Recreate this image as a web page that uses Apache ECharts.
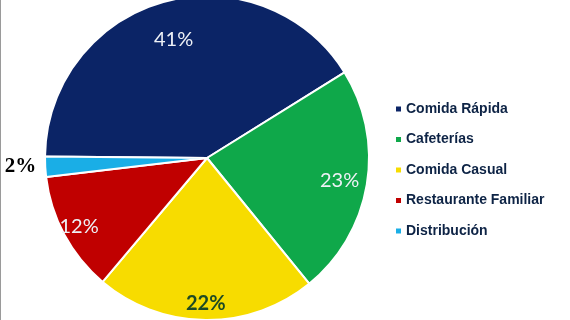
<!DOCTYPE html>
<html>
<head>
<meta charset="utf-8">
<script src="https://cdn.jsdelivr.net/npm/echarts@6/dist/echarts.min.js"></script>
<style>
  html, body { margin: 0; padding: 0; background: #fff; }
  #chart { width: 570px; height: 320px; }
</style>
</head>
<body>
<div id="chart"></div>
<script>
// datos del grafico
var categories = ['Comida Rápida', 'Cafeterías', 'Comida Casual', 'Restaurante Familiar', 'Distribución'];
var values = [41, 23, 22, 12, 2];
var colors = ['#0b2466', '#0fa84a', '#f7dc00', '#c00000', '#1aaee6'];

var cx = 207, cy = 158;
// factor para alejar las etiquetas internas del centro
var labelPush = [1.47, 1.6, 1.73, 1.73, 1];

var myChart = echarts.init(document.getElementById('chart'));
var option = {
  animation: false,
  color: colors,
  graphic: [{
    type: 'line',
    shape: { x1: 0.5, y1: 0, x2: 0.5, y2: 320 },
    style: { stroke: '#9a9a9a', lineWidth: 1 }
  }],
  legend: {
    orient: 'vertical',
    left: 389,
    top: 96,
    itemWidth: 7,
    itemHeight: 7,
    itemGap: 14.5,
    icon: 'rect',
    textStyle: {
      fontFamily: 'Liberation Sans Narrow, Liberation Sans, sans-serif',
      fontWeight: 'bold',
      fontSize: 14,
      lineHeight: 16,
      color: '#0d2345',
      padding: [0, 0, 0, -1]
    },
    data: categories
  },
  series: [{
    type: 'pie',
    center: [cx, cy],
    radius: 162,
    startAngle: 179.5,
    clockwise: true,
    itemStyle: { borderColor: '#fff', borderWidth: 2 },
    label: {
      position: 'inside',
      formatter: '{c}%',
      fontFamily: 'Lato, sans-serif',
      fontSize: 20,
      color: '#eef1f6'
    },
    labelLine: { show: false },
    labelLayout: function (p) {
      if (p.dataIndex === 4) return {};
      var k = labelPush[p.dataIndex];
      var lx = p.labelRect.x + p.labelRect.width / 2;
      var ly = p.labelRect.y + p.labelRect.height / 2;
      return { x: cx + (lx - cx) * k, y: cy + (ly - cy) * k };
    },
    data: values.map(function (v, i) {
      var d = { name: categories[i], value: v };
      if (i === 2) {
        d.label = { color: '#1d4a24', fontWeight: 'bold' };
      }
      if (i === 4) {
        d.label = {
          position: 'outside',
          color: '#000',
          fontWeight: 'bold',
          fontSize: 21,
          overflow: 'none',
          fontFamily: 'Liberation Serif, serif'
        };
        d.labelLine = { show: false, length: 0, length2: 4 };
      }
      return d;
    })
  }]
};
myChart.setOption(option);
</script>
</body>
</html>
